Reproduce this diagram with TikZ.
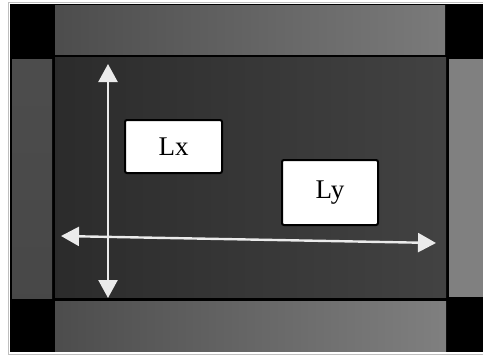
\documentclass[tikz,border=0pt]{standalone}
\usepackage{fontspec}
\setmainfont{Liberation Serif}
\usetikzlibrary{arrows.meta}

\begin{document}
\begin{tikzpicture}[
  x=1pt, y=-1pt,
  bar/.style={draw=none},
  lbl/.style={rectangle, draw=black, line width=2pt, rounded corners=2pt, fill=white, inner sep=0pt, font=\fontsize{27}{30}\selectfont},
  axis/.style={draw=white!92!black, line width=2.4pt, -{Triangle[length=18pt, width=19pt]}, shorten >=0pt}
]
\useasboundingbox (0,0) rectangle (483,356);
\fill[white] (0,0) rectangle (483,356);

% Frame: black base, then the four bars and the middle
\draw[gray!50, line width=0.8pt] (8,2) rectangle (483,354);
\fill[black] (10,4) rectangle (483,352);
\shade[bar, left color=black!70, right color=black!52] (55,5) rectangle (445,54);
\shade[bar, left color=black!70, right color=black!50] (55,301) rectangle (446,351);
\shade[bar, top color=black!70, bottom color=black!72] (12,59) rectangle (52,298);
\fill[black!50] (449,59) rectangle (483,297);
\shade[bar, left color=black!83, right color=black!74] (55,57) rectangle (446,297);

% Label boxes
\node[lbl, minimum width=97pt, minimum height=53pt] (LX) at (173.5,146.5) {Lx};
\node[lbl, minimum width=96pt, minimum height=65pt] (LY) at (330,192.5) {Ly};

% Axes
\coordinate (VTOP) at (108,64);
\coordinate (VBOT) at (108,298);
\coordinate (HLEFT) at (61,236);
\coordinate (HRIGHT) at (436,243);
\coordinate (VMID) at (108,180);
\coordinate (HMID) at (248,239.5);
\draw[axis] (VMID) -- (VTOP);
\draw[axis] (VMID) -- (VBOT);
\draw[axis] (HMID) -- (HLEFT);
\draw[axis] (HMID) -- (HRIGHT);

\end{tikzpicture}
\end{document}
